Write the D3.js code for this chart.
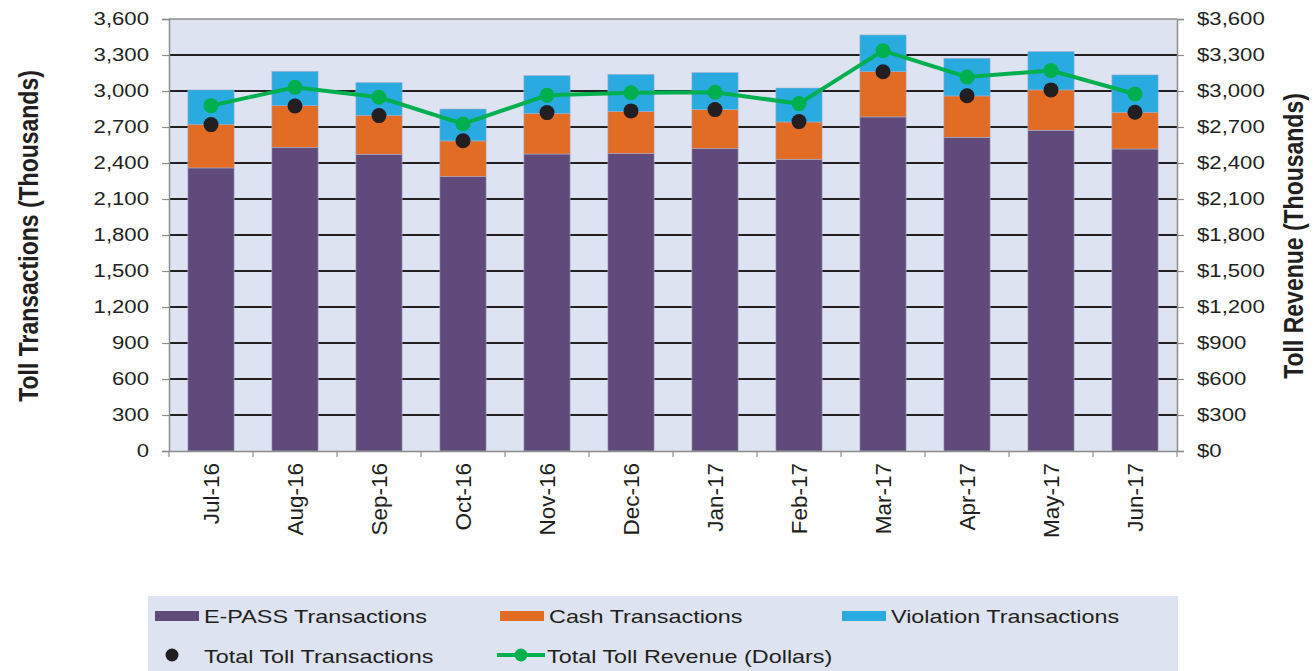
<!DOCTYPE html>
<html>
<head>
<meta charset="utf-8">
<script src="https://cdnjs.cloudflare.com/ajax/libs/d3/7.8.5/d3.min.js"></script>
<style>
  body { margin: 0; background: #fff; }
  text { font-family: "Liberation Sans", Arial, sans-serif; fill: #231f20; }
</style>
</head>
<body>
<div id="vis"></div>
<script>
const WIDTH = 1316, HEIGHT = 671;
const STRETCH = 1.23;

const months = ['Jul-16', 'Aug-16', 'Sep-16', 'Oct-16', 'Nov-16', 'Dec-16',
	'Jan-17', 'Feb-17', 'Mar-17', 'Apr-17', 'May-17', 'Jun-17'];
const epass = [2359, 2531, 2473, 2286, 2475, 2478, 2520, 2431, 2784, 2614, 2673, 2517];
const cash = [364, 347, 325, 298, 339, 353, 325, 311, 377, 345, 336, 306];
const violation = [286, 286, 272, 266, 314, 308, 308, 283, 306, 314, 319, 311];
const totalTrans = [2720, 2875, 2795, 2586, 2820, 2834, 2845, 2745, 3161, 2961, 3009, 2823];
const revenue = [2878, 3031, 2948, 2725, 2964, 2986, 2989, 2895, 3336, 3117, 3170, 2975];
const yTicks = [0, 300, 600, 900, 1200, 1500, 1800, 2100, 2400, 2700, 3000, 3300, 3600];

const seriesNames = ['E-PASS Transactions', 'Cash Transactions', 'Violation Transactions'];
const seriesColors = ['#5f4a7b', '#e36c25', '#29abe2'];
const GREEN = '#00b04f', DOT = '#231f20';

const plot = { left: 169, right: 1177, top: 19, bottom: 451 };

const x = d3.scaleBand().domain(months)
	.range([plot.left, plot.right])
	.paddingInner(0.45).paddingOuter(0.225);
const y = d3.scaleLinear().domain([0, 3600]).range([plot.bottom, plot.top]);
const yR = d3.scaleLinear().domain([0, 3600]).range([plot.bottom, plot.top]);

const rows = months.map((m, i) => ({ month: m, epass: epass[i], cash: cash[i], violation: violation[i] }));
const stack = d3.stack().keys(['epass', 'cash', 'violation'])(rows);

const svg = d3.select('#vis').append('svg')
	.attr('width', WIDTH).attr('height', HEIGHT);

// plot background
svg.append('rect')
	.attr('x', plot.left).attr('y', plot.top)
	.attr('width', plot.right - plot.left).attr('height', plot.bottom - plot.top)
	.attr('fill', '#dde3f0');

// gridlines
svg.append('g').selectAll('line')
	.data(yTicks.filter(d => d > 0 && d < 3600)).enter()
	.append('line')
	.attr('x1', plot.left).attr('x2', plot.right)
	.attr('y1', d => y(d)).attr('y2', d => y(d))
	.attr('stroke', '#231f20').attr('stroke-width', 2);

// top border
svg.append('line')
	.attr('x1', plot.left).attr('x2', plot.right)
	.attr('y1', plot.top).attr('y2', plot.top)
	.attr('stroke', '#8c8c8c').attr('stroke-width', 1.5);

// stacked bars
svg.append('g').selectAll('g')
	.data(stack).enter()
	.append('g')
	.attr('fill', (d, i) => seriesColors[i])
	.selectAll('rect')
	.data(d => d).enter()
	.append('rect')
	.attr('x', d => x(d.data.month))
	.attr('width', x.bandwidth())
	.attr('y', d => y(d[1]))
	.attr('height', d => y(d[0]) - y(d[1]))
	.attr('stroke', '#a6aecb').attr('stroke-width', 0.6);

// axes
const axisColor = '#8c8c8c';
const leftAxis = svg.append('g')
	.attr('transform', `translate(${plot.left},0)`)
	.call(d3.axisLeft(y).tickValues(yTicks).tickFormat(d3.format(',')).tickSize(7).tickPadding(13));
const rightAxis = svg.append('g')
	.attr('transform', `translate(${plot.right},0)`)
	.call(d3.axisRight(yR).tickValues(yTicks).tickFormat(d => '$' + d3.format(',')(d)).tickSize(7).tickPadding(13));
const bottomAxis = svg.append('g')
	.attr('transform', `translate(0,${plot.bottom})`)
	.call(d3.axisBottom(x).tickSize(0).tickPadding(0));

[leftAxis, rightAxis, bottomAxis].forEach(g => {
	g.select('.domain').attr('stroke', axisColor).attr('stroke-width', 1.5);
	g.selectAll('.tick line').attr('stroke', axisColor).attr('stroke-width', 1.2);
});
leftAxis.selectAll('text').attr('font-size', 18).attr('class', 'stretch').attr('fill', '#231f20');
rightAxis.selectAll('text').attr('font-size', 18).attr('class', 'stretch').attr('fill', '#231f20');

// category boundary ticks on x axis
bottomAxis.selectAll('.boundary')
	.data(d3.range(months.length + 1)).enter()
	.append('line')
	.attr('x1', i => plot.left + i * x.step()).attr('x2', i => plot.left + i * x.step())
	.attr('y1', 0).attr('y2', 6)
	.attr('stroke', axisColor).attr('stroke-width', 1.2);

// rotated month labels
bottomAxis.selectAll('.tick text')
	.attr('font-size', 22.5)
	.attr('fill', '#231f20')
	.attr('text-anchor', 'end')
	.attr('transform', 'translate(0,12) rotate(-90)')
	.attr('x', 0).attr('y', 0)
	.attr('dy', '0.36em');

// total toll revenue line
const line = d3.line()
	.x((d, i) => x(months[i]) + x.bandwidth() / 2)
	.y(d => yR(d));
svg.append('path')
	.datum(revenue)
	.attr('d', line)
	.attr('fill', 'none')
	.attr('stroke', GREEN).attr('stroke-width', 4);
svg.append('g').selectAll('circle')
	.data(revenue).enter()
	.append('circle')
	.attr('cx', (d, i) => x(months[i]) + x.bandwidth() / 2)
	.attr('cy', d => yR(d))
	.attr('r', 7.5)
	.attr('fill', GREEN);

// total toll transactions dots
svg.append('g').selectAll('circle')
	.data(totalTrans).enter()
	.append('circle')
	.attr('cx', (d, i) => x(months[i]) + x.bandwidth() / 2)
	.attr('cy', d => y(d))
	.attr('r', 7.5)
	.attr('fill', DOT);

// axis titles
svg.append('text')
	.attr('transform', `translate(28,236) scale(${STRETCH},1) rotate(-90)`)
	.attr('text-anchor', 'middle')
	.attr('dy', '0.36em')
	.attr('font-size', 23).attr('font-weight', 'bold')
	.text('Toll Transactions (Thousands)');
svg.append('text')
	.attr('transform', `translate(1293,236) scale(${STRETCH},1) rotate(-90)`)
	.attr('text-anchor', 'middle')
	.attr('dy', '0.36em')
	.attr('font-size', 23).attr('font-weight', 'bold')
	.text('Toll Revenue (Thousands)');

// legend
const legend = svg.append('g').attr('class', 'legend');
legend.append('rect')
	.attr('x', 148).attr('y', 596)
	.attr('width', 1030).attr('height', 80)
	.attr('fill', '#dde3f0');

const legendBars = [
	{ name: seriesNames[0], color: seriesColors[0], x: 155 },
	{ name: seriesNames[1], color: seriesColors[1], x: 500 },
	{ name: seriesNames[2], color: seriesColors[2], x: 842 }
];
legend.selectAll('.lb')
	.data(legendBars).enter()
	.append('rect')
	.attr('x', d => d.x).attr('y', 611)
	.attr('width', 44).attr('height', 10)
	.attr('fill', d => d.color);
legend.selectAll('.lbt')
	.data(legendBars).enter()
	.append('text')
	.attr('class', 'stretch')
	.attr('x', d => d.x + 49).attr('y', 623)
	.attr('font-size', 19)
	.text(d => d.name);

legend.append('circle')
	.attr('cx', 172).attr('cy', 655).attr('r', 6.5)
	.attr('fill', DOT);
legend.append('text')
	.attr('class', 'stretch')
	.attr('x', 204).attr('y', 663)
	.attr('font-size', 19)
	.text('Total Toll Transactions');

legend.append('line')
	.attr('x1', 497).attr('x2', 545)
	.attr('y1', 655).attr('y2', 655)
	.attr('stroke', GREEN).attr('stroke-width', 4);
legend.append('circle')
	.attr('cx', 521).attr('cy', 655).attr('r', 6.5)
	.attr('fill', GREEN);
legend.append('text')
	.attr('class', 'stretch')
	.attr('x', 547).attr('y', 663)
	.attr('font-size', 19)
	.text('Total Toll Revenue (Dollars)');

// the source text is wider than plain Arial, widen horizontal labels
svg.selectAll('text.stretch').each(function () {
	const w = this.getComputedTextLength();
	this.setAttribute('textLength', w * STRETCH);
	this.setAttribute('lengthAdjust', 'spacingAndGlyphs');
});
</script>
</body>
</html>
